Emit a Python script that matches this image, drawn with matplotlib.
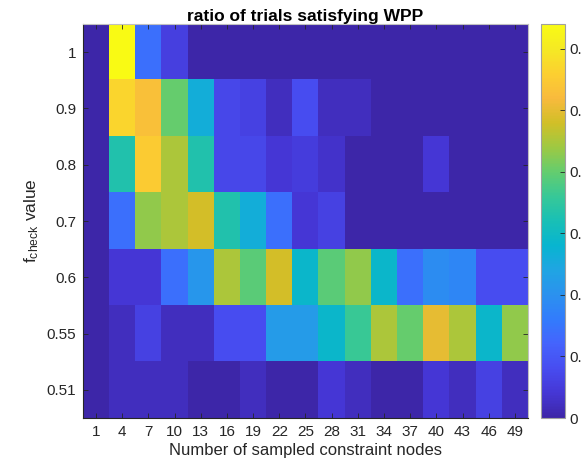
import numpy as np
import matplotlib
matplotlib.use('Agg')
import matplotlib.pyplot as plt
from matplotlib.colors import LinearSegmentedColormap

# data (rows top -> bottom)
n_nodes = [1, 4, 7, 10, 13, 16, 19, 22, 25, 28, 31, 34, 37, 40, 43, 46, 49]
f_check = ['1', '0.9', '0.8', '0.7', '0.6', '0.55', '0.51']
ratio = [
    [0, 0.64, 0.14, 0.055, 0, 0, 0, 0, 0, 0, 0, 0, 0, 0, 0, 0, 0],
    [0, 0.57, 0.53, 0.40, 0.26, 0.07, 0.06, 0.02, 0.08, 0.02, 0.02, 0, 0, 0, 0, 0, 0],
    [0, 0.33, 0.55, 0.45, 0.33, 0.07, 0.07, 0.04, 0.05, 0.03, 0, 0, 0, 0.04, 0, 0, 0],
    [0, 0.14, 0.43, 0.45, 0.48, 0.33, 0.26, 0.14, 0.04, 0.06, 0, 0, 0, 0, 0, 0, 0],
    [0, 0.04, 0.04, 0.14, 0.21, 0.45, 0.39, 0.48, 0.29, 0.39, 0.43, 0.29, 0.14, 0.19, 0.18, 0.08, 0.08],
    [0, 0.02, 0.06, 0.02, 0.02, 0.08, 0.08, 0.22, 0.22, 0.29, 0.36, 0.45, 0.40, 0.50, 0.45, 0.29, 0.43],
    [0, 0.02, 0.02, 0.02, 0, 0, 0.02, 0, 0, 0.04, 0.02, 0, 0, 0.04, 0.02, 0.06, 0.02],
]
cbar_ticks = [0, 0.1, 0.2, 0.3, 0.4, 0.5, 0.6]
c_max = 0.64

# parula-like colormap
parula = LinearSegmentedColormap.from_list('parula', [
    (0.2422, 0.1504, 0.6603), (0.2706, 0.2147, 0.8364), (0.2813, 0.3006, 0.9414),
    (0.2699, 0.3892, 0.9906), (0.1963, 0.4847, 0.9892), (0.1687, 0.5703, 0.9359),
    (0.1248, 0.6459, 0.8883), (0.0297, 0.7082, 0.8163), (0.0964, 0.7500, 0.7120),
    (0.2161, 0.7843, 0.5923), (0.3909, 0.8029, 0.4354), (0.6174, 0.7876, 0.2612),
    (0.8203, 0.7498, 0.1535), (0.9728, 0.7298, 0.2394), (0.9892, 0.8136, 0.1885),
    (0.9597, 0.9135, 0.1423), (0.9769, 0.9839, 0.0805)], N=256)

plt.rcParams['font.family'] = ['Liberation Sans', 'DejaVu Sans']
plt.rcParams['mathtext.default'] = 'regular'
dark = '#262626'

fig = plt.figure(figsize=(5.82, 4.68), dpi=100)
ax = fig.add_axes([0.1426, 0.1068, 0.7646, 0.8419])
cax = fig.add_axes([0.9296, 0.1068, 0.0412, 0.8419])

im = ax.imshow(np.array(ratio), cmap=parula, vmin=0, vmax=c_max, aspect='auto',
               interpolation='nearest')

ax.set_xticks(range(len(n_nodes)))
ax.set_xticklabels([str(n) for n in n_nodes])
ax.set_yticks(range(len(f_check)))
ax.set_yticklabels(f_check)
ax.tick_params(direction='in', length=3.5, width=0.6, color=dark, labelcolor=dark,
               labelsize=11, top=True, right=True, pad=5)
for s in ['bottom', 'left']:
    ax.spines[s].set_color(dark)
for s in ['top', 'right']:
    ax.spines[s].set_color('#c0c0c0')

ax.set_title('ratio of trials satisfying WPP', fontsize=12.5, fontweight='bold', pad=2.5)
ax.set_xlabel('Number of sampled constraint nodes', fontsize=12, color=dark, labelpad=3)
ax.set_ylabel('f$_{check}$ value', fontsize=12.5, color=dark, labelpad=4)

cb = fig.colorbar(im, cax=cax, ticks=cbar_ticks)
cb.ax.set_yticklabels(['0' if t == 0 else str(t) for t in cbar_ticks])
cb.ax.tick_params(direction='in', length=3.5, width=0.6, color=dark, labelcolor=dark,
                  labelsize=11, pad=3)
cb.outline.set_edgecolor('#a0a0a0')

fig.savefig('out.png', dpi=100)
